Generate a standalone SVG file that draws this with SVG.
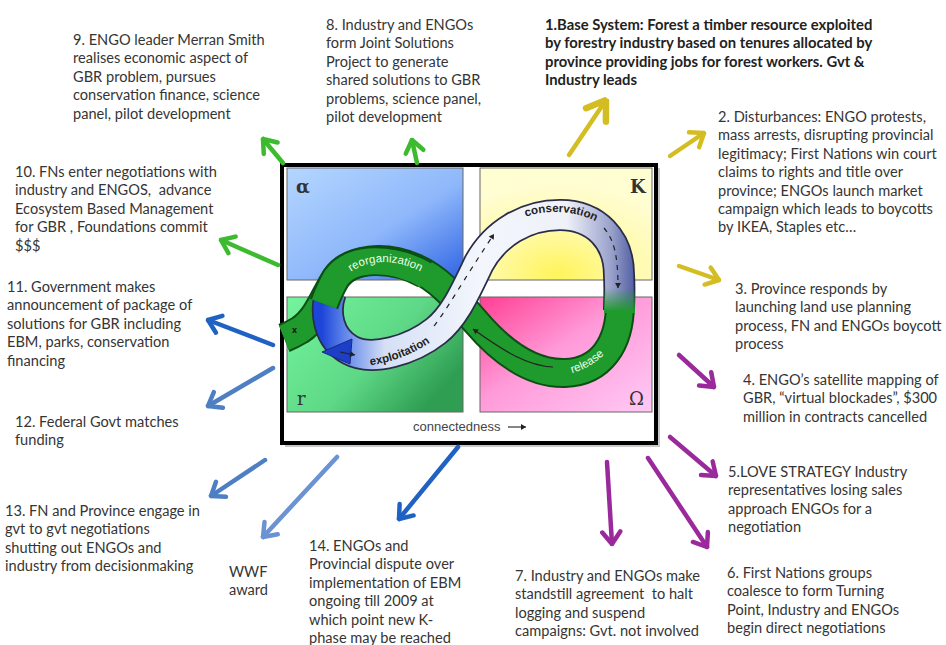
<svg xmlns="http://www.w3.org/2000/svg" width="946" height="645" viewBox="0 0 946 645">
<defs>
<style>
.t{font-family:Lato,"Liberation Sans",sans-serif;font-size:14.6px;fill:#353535;white-space:pre}
.tb{font-family:Lato,"Liberation Sans",sans-serif;font-size:14.8px;font-weight:bold;fill:#222;white-space:pre}
.ar{fill:none;stroke-width:4.5;stroke-linecap:round}
.g{stroke:#3dbb2e}.y{stroke:#d4bd22}.p{stroke:#9a2a9c}.b1{stroke:#1f62c4}.b2{stroke:#4d7fc2}.b3{stroke:#6b93d4}
.gk{font-family:"DejaVu Serif","Liberation Serif",serif;font-size:18px;fill:#333}
.q{stroke:#666;stroke-width:1}
.bandlbl{font-family:"Liberation Sans",Arial,sans-serif;font-size:11.5px}
</style>
<marker id="mg" viewBox="-16 -12 18 24" refX="0" refY="0" markerWidth="18" markerHeight="24" markerUnits="userSpaceOnUse" orient="auto"><path d="M-12,-9 L0,0 L-12,9" fill="none" stroke="#3dbb2e" stroke-width="4.5" stroke-linecap="round" stroke-linejoin="round"/></marker>
<marker id="my" viewBox="-16 -12 18 24" refX="0" refY="0" markerWidth="18" markerHeight="24" markerUnits="userSpaceOnUse" orient="auto"><path d="M-12,-9 L0,0 L-12,9" fill="none" stroke="#d4bd22" stroke-width="4.5" stroke-linecap="round" stroke-linejoin="round"/></marker>
<marker id="myb" viewBox="-22 -16 24 32" refX="0" refY="0" markerWidth="24" markerHeight="32" markerUnits="userSpaceOnUse" orient="auto"><path d="M-18,-12 L0,0 L-18,12" fill="none" stroke="#d4bd22" stroke-width="6.5" stroke-linecap="round" stroke-linejoin="round"/></marker>
<marker id="mp" viewBox="-16 -12 18 24" refX="0" refY="0" markerWidth="18" markerHeight="24" markerUnits="userSpaceOnUse" orient="auto"><path d="M-12,-9 L0,0 L-12,9" fill="none" stroke="#9a2a9c" stroke-width="4.5" stroke-linecap="round" stroke-linejoin="round"/></marker>
<marker id="mb1" viewBox="-16 -12 18 24" refX="0" refY="0" markerWidth="18" markerHeight="24" markerUnits="userSpaceOnUse" orient="auto"><path d="M-12,-9 L0,0 L-12,9" fill="none" stroke="#1f62c4" stroke-width="4.5" stroke-linecap="round" stroke-linejoin="round"/></marker>
<marker id="mb2" viewBox="-16 -12 18 24" refX="0" refY="0" markerWidth="18" markerHeight="24" markerUnits="userSpaceOnUse" orient="auto"><path d="M-12,-9 L0,0 L-12,9" fill="none" stroke="#4d7fc2" stroke-width="4.5" stroke-linecap="round" stroke-linejoin="round"/></marker>
<marker id="mb3" viewBox="-16 -12 18 24" refX="0" refY="0" markerWidth="18" markerHeight="24" markerUnits="userSpaceOnUse" orient="auto"><path d="M-12,-9 L0,0 L-12,9" fill="none" stroke="#6b93d4" stroke-width="4.5" stroke-linecap="round" stroke-linejoin="round"/></marker>
<marker id="msm" viewBox="-6 -4 7 8" refX="0" refY="0" markerWidth="7" markerHeight="8" markerUnits="userSpaceOnUse" orient="auto"><path d="M-5,-3 L0,0 L-5,3 Z" fill="#222"/></marker>
<linearGradient id="qa" x1="0" y1="0" x2="1" y2="1"><stop offset="0" stop-color="#b4d6ff"/><stop offset="0.55" stop-color="#8fb8fb"/><stop offset="1" stop-color="#2f63e4"/></linearGradient>
<radialGradient id="qk" cx="0.45" cy="0.95" r="0.8"><stop offset="0" stop-color="#fff45a"/><stop offset="0.5" stop-color="#fffaa8"/><stop offset="1" stop-color="#fffdd2"/></radialGradient>
<linearGradient id="qr" x1="0" y1="0" x2="1" y2="0.6"><stop offset="0" stop-color="#74f49c"/><stop offset="0.6" stop-color="#5ed886"/><stop offset="1" stop-color="#2f9e52"/></linearGradient>
<linearGradient id="qo" x1="0" y1="0" x2="1" y2="1"><stop offset="0" stop-color="#ff3f93"/><stop offset="0.45" stop-color="#ff9ad8"/><stop offset="1" stop-color="#ffcaf6"/></linearGradient>
<linearGradient id="wb" gradientUnits="userSpaceOnUse" x1="322" y1="0" x2="636" y2="0"><stop offset="0" stop-color="#1d46d8"/><stop offset="0.07" stop-color="#5f84ea"/><stop offset="0.2" stop-color="#d5e0f6"/><stop offset="0.5" stop-color="#f3f6fc"/><stop offset="0.78" stop-color="#eef1f8"/><stop offset="0.92" stop-color="#9aa2cc"/><stop offset="1" stop-color="#4d5aa0"/></linearGradient>
<linearGradient id="fade" gradientUnits="userSpaceOnUse" x1="0" y1="288" x2="0" y2="312"><stop offset="0" stop-color="#1f9a2c" stop-opacity="0"/><stop offset="1" stop-color="#1f9a2c" stop-opacity="1"/></linearGradient>
</defs>
<rect width="946" height="645" fill="#fff"/>

<g id="cycle">
<rect x="285" y="168" width="375" height="279" fill="#9a9a9a" opacity="0.55"/>
<rect x="282" y="165" width="374" height="278" fill="#fff" stroke="#000" stroke-width="4"/>
<rect class="q" x="287" y="168" width="176" height="112" fill="url(#qa)"/>
<rect class="q" x="480" y="168" width="172" height="112" fill="url(#qk)"/>
<rect class="q" x="287" y="297" width="176" height="115" fill="url(#qr)"/>
<rect class="q" x="480" y="297" width="172" height="115" fill="url(#qo)"/>
<text class="gk" x="296" y="193" font-weight="bold">α</text>
<text class="gk" x="630" y="193" font-weight="bold">K</text>
<text class="gk" x="297" y="405">r</text>
<text class="gk" x="629" y="405">Ω</text>
<text x="413" y="431" font-family="'Liberation Sans',Arial,sans-serif" font-size="13" fill="#444">connectedness</text>
<path d="M508,427 H526" stroke="#444" stroke-width="1.3" marker-end="url(#msm)"/>
<!-- green band -->
<path d="M620,300 C621,345 600,372 565,373 C530,374 500,350 476,322 C456,299 440,279 415,268 C385,255 350,258 336,278 C324,296 318,318 300,330 C295,333 289,336 284,338" fill="none" stroke="#0c4f14" stroke-width="30"/>
<path d="M620,300 C621,345 600,372 565,373 C530,374 500,350 476,322 C456,299 440,279 415,268 C385,255 350,258 336,278 C324,296 318,318 300,330 C295,333 289,336 284,338" fill="none" stroke="#1f9a2c" stroke-width="26"/>
<!-- white/blue band -->
<path d="M331,292 C324,312 328,338 350,350 C372,362 412,350 436,331 C455,316 466,290 479,263 C495,234 525,215 560,215 C596,215 619,240 619,275 C620,292 619,302 619,310" fill="none" stroke="#2a2d48" stroke-width="32"/>
<path d="M331,292 C324,312 328,338 350,350 C372,362 412,350 436,331 C455,316 466,290 479,263 C495,234 525,215 560,215 C596,215 619,240 619,275 C620,292 619,302 619,310" fill="none" stroke="url(#wb)" stroke-width="28.5"/>
<rect x="604" y="288" width="31" height="25" fill="url(#fade)"/>
<polygon points="322,352 352,339 350,364" fill="#1d3fc8" stroke="#1a2a80" stroke-width="1"/>
<!-- green overlay top-left -->
<path d="M425,274 C395,257 352,255 336,278 C330,288 327,296 324,304" fill="none" stroke="#0c4f14" stroke-width="30"/>
<path d="M427,276 C395,257 352,255 336,278 C330,288 327,296 324,304" fill="none" stroke="#1f9a2c" stroke-width="26"/>
<!-- band labels -->
<path id="lr" d="M336,290 C350,258 400,250 440,285" fill="none"/>
<text class="bandlbl" fill="#e8ffe8"><textPath href="#lr" startOffset="50%" text-anchor="middle">reorganization</textPath></text>
<path id="lc" d="M505,229 C530,205 590,205 614,237" fill="none"/>
<text class="bandlbl" font-weight="bold" fill="#222"><textPath href="#lc" startOffset="50%" text-anchor="middle">conservation</textPath></text>
<path id="le" d="M356,366 C385,366 415,355 442,334" fill="none"/>
<text class="bandlbl" font-weight="bold" fill="#222"><textPath href="#le" startOffset="50%" text-anchor="middle">exploitation</textPath></text>
<path id="ll" d="M560,376 C583,372 600,362 612,345" fill="none"/>
<text class="bandlbl" fill="#e8ffe8"><textPath href="#ll" startOffset="50%" text-anchor="middle">release</textPath></text>
<path d="M434,326 C448,308 462,282 494,234" fill="none" stroke="#222" stroke-width="1.2" stroke-dasharray="5 6" marker-end="url(#msm)"/>
<path d="M604,228 C614,240 618,255 618,288" fill="none" stroke="#222" stroke-width="1.2" stroke-dasharray="5 5" marker-end="url(#msm)"/>
<path d="M553,367 C528,366 505,352 473,329" fill="none" stroke="#222" stroke-width="1.2" marker-end="url(#msm)"/>
<path d="M340,352 L355,355" fill="none" stroke="#222" stroke-width="1.2" marker-end="url(#msm)"/>
<text x="292" y="333" font-family="'Liberation Sans',Arial,sans-serif" font-size="9" font-weight="bold" fill="#111">x</text>
</g>

<g id="connectors">
<path class="ar g" d="M283,163 L263,139" marker-end="url(#mg)"/>
<path class="ar g" d="M417,163 L412,140" marker-end="url(#mg)"/>
<path class="ar g" d="M278,265 L221,240" marker-end="url(#mg)"/>
<path class="ar y" stroke-width="6.5" d="M569,155 L606,100" marker-end="url(#myb)"/>
<path class="ar y" d="M670,156 L704,133" marker-end="url(#my)"/>
<path class="ar y" d="M679,266 L719,280" marker-end="url(#my)"/>
<path class="ar p" d="M679,355 L714,387" marker-end="url(#mp)"/>
<path class="ar p" d="M670,437 L716,476" marker-end="url(#mp)"/>
<path class="ar p" d="M648,458 L707,547" marker-end="url(#mp)"/>
<path class="ar p" d="M607,462 L612,544" marker-end="url(#mp)"/>
<path class="ar b1" d="M273,345 L208,320" marker-end="url(#mb1)"/>
<path class="ar b2" d="M273,368 L208,406" marker-end="url(#mb2)"/>
<path class="ar b2" d="M265,460 L211,496" marker-end="url(#mb2)"/>
<path class="ar b3" d="M337,457 L263,537" marker-end="url(#mb3)"/>
<path class="ar b1" d="M458,447 L399,519" marker-end="url(#mb1)"/>
</g>

<g id="n1"><text class="tb" x="545" y="30"><tspan x="545">1.Base System: Forest a timber resource exploited</tspan><tspan x="545" dy="18.4">by forestry industry based on tenures allocated by</tspan><tspan x="545" dy="18.4">province providing jobs for forest workers. Gvt &amp;</tspan><tspan x="545" dy="18.4">Industry leads</tspan></text></g>
<g id="n2"><text class="t" x="718" y="122"><tspan x="718">2. Disturbances: ENGO protests,</tspan><tspan x="718" dy="18.4">mass arrests, disrupting provincial</tspan><tspan x="718" dy="18.4">legitimacy; First Nations win court</tspan><tspan x="718" dy="18.4">claims to rights and title over</tspan><tspan x="718" dy="18.4">province; ENGOs launch market</tspan><tspan x="718" dy="18.4">campaign which leads to boycotts</tspan><tspan x="718" dy="18.4">by IKEA, Staples etc…</tspan></text></g>
<g id="n3"><text class="t" x="735" y="294"><tspan x="735">3. Province responds by</tspan><tspan x="735" dy="18.4">launching land use planning</tspan><tspan x="735" dy="18.4">process, FN and ENGOs boycott</tspan><tspan x="735" dy="18.4">process</tspan></text></g>
<g id="n4"><text class="t" x="743" y="385"><tspan x="743">4. ENGO’s satellite mapping of</tspan><tspan x="743" dy="18.4">GBR, “virtual blockades”, $300</tspan><tspan x="743" dy="18.4">million in contracts cancelled</tspan></text></g>
<g id="n5"><text class="t" x="728" y="477"><tspan x="728">5.LOVE STRATEGY Industry</tspan><tspan x="728" dy="18.4">representatives losing sales</tspan><tspan x="728" dy="18.4">approach ENGOs for a</tspan><tspan x="728" dy="18.4">negotiation</tspan></text></g>
<g id="n6"><text class="t" x="727" y="578"><tspan x="727">6. First Nations groups</tspan><tspan x="727" dy="18.4">coalesce to form Turning</tspan><tspan x="727" dy="18.4">Point, Industry and ENGOs</tspan><tspan x="727" dy="18.4">begin direct negotiations</tspan></text></g>
<g id="n7"><text class="t" x="515" y="581"><tspan x="515">7. Industry and ENGOs make</tspan><tspan x="515" dy="18.4">standstill agreement  to halt</tspan><tspan x="515" dy="18.4">logging and suspend</tspan><tspan x="515" dy="18.4">campaigns: Gvt. not involved</tspan></text></g>
<g id="n8"><text class="t" x="326" y="30"><tspan x="326">8. Industry and ENGOs</tspan><tspan x="326" dy="18.4">form Joint Solutions</tspan><tspan x="326" dy="18.4">Project to generate</tspan><tspan x="326" dy="18.4">shared solutions to GBR</tspan><tspan x="326" dy="18.4">problems, science panel,</tspan><tspan x="326" dy="18.4">pilot development</tspan></text></g>
<g id="n9"><text class="t" x="73" y="45"><tspan x="73">9. ENGO leader Merran Smith</tspan><tspan x="73" dy="18.4">realises economic aspect of</tspan><tspan x="73" dy="18.4">GBR problem, pursues</tspan><tspan x="73" dy="18.4">conservation finance, science</tspan><tspan x="73" dy="18.4">panel, pilot development</tspan></text></g>
<g id="n10"><text class="t" x="15" y="177"><tspan x="15">10. FNs enter negotiations with</tspan><tspan x="15" dy="18.4">industry and ENGOS,  advance</tspan><tspan x="15" dy="18.4">Ecosystem Based Management</tspan><tspan x="15" dy="18.4">for GBR , Foundations commit</tspan><tspan x="15" dy="18.4">$$$</tspan></text></g>
<g id="n11"><text class="t" x="7" y="292"><tspan x="7">11. Government makes</tspan><tspan x="7" dy="18.4">announcement of package of</tspan><tspan x="7" dy="18.4">solutions for GBR including</tspan><tspan x="7" dy="18.4">EBM, parks, conservation</tspan><tspan x="7" dy="18.4">financing</tspan></text></g>
<g id="n12"><text class="t" x="15" y="427"><tspan x="15">12. Federal Govt matches</tspan><tspan x="15" dy="18.4">funding</tspan></text></g>
<g id="n13"><text class="t" x="5" y="516"><tspan x="5">13. FN and Province engage in</tspan><tspan x="5" dy="18.4">gvt to gvt negotiations</tspan><tspan x="5" dy="18.4">shutting out ENGOs and</tspan><tspan x="5" dy="18.4">industry from decisionmaking</tspan></text></g>
<g id="nwwf"><text class="t" x="229" y="577"><tspan x="229">WWF</tspan><tspan x="229" dy="18.4">award</tspan></text></g>
<g id="n14"><text class="t" x="309" y="551"><tspan x="309">14. ENGOs and</tspan><tspan x="309" dy="18.4">Provincial dispute over</tspan><tspan x="309" dy="18.4">implementation of EBM</tspan><tspan x="309" dy="18.4">ongoing till 2009 at</tspan><tspan x="309" dy="18.4">which point new K-</tspan><tspan x="309" dy="18.4">phase may be reached</tspan></text></g>
</svg>
